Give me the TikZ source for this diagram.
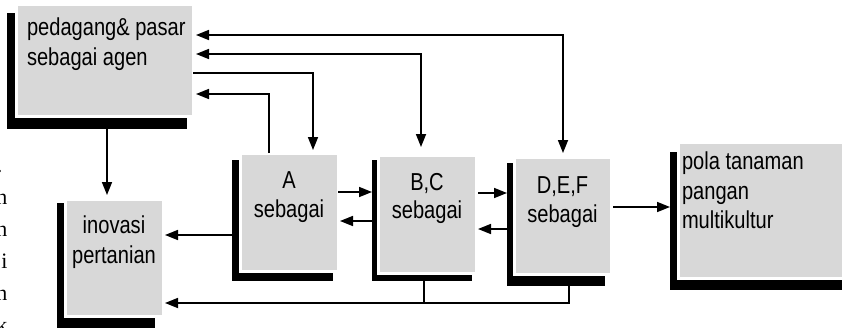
\documentclass[tikz,border=0pt]{standalone}
\usepackage{fontspec}
\setmainfont{Liberation Sans}[FakeStretch=0.82]
\newfontfamily\serifpart{Liberation Serif}
\usetikzlibrary{arrows.meta,calc}
\definecolor{boxgray}{RGB}{216,216,216}
\begin{document}
\begin{tikzpicture}[x=1pt,y=-1pt,
  gbox/.style={fill=boxgray, draw=white, line width=3pt, inner sep=0pt, outer sep=0pt},
  sbox/.style={fill=black, inner sep=0pt, outer sep=0pt},
  lbl/.style={font=\fontsize{24.5}{29}\selectfont, inner sep=0pt, outer sep=0pt, text=black},
  frag/.style={font=\serifpart\fontsize{22}{26}\selectfont, inner sep=0pt, outer sep=0pt},
  conn/.style={line width=1.7pt},
  arr/.style={conn, -{Triangle[length=13pt,width=10pt]}},
  darr/.style={conn, {Triangle[length=13pt,width=10pt]}-{Triangle[length=13pt,width=10pt]}},
]
\useasboundingbox (0,0) rectangle (842,327);
\fill[white] (0,0) rectangle (842,327);

% shadows
\node[sbox, minimum width=180, minimum height=116] (Ps) at (97,71) {};
\node[sbox, minimum width=101, minimum height=121] (As) at (282.5,220.5) {};
\node[sbox, minimum width=100, minimum height=121] (BCs) at (422,220.5) {};
\node[sbox, minimum width=98, minimum height=123] (DEFs) at (556,224.5) {};
\node[sbox, minimum width=180, minimum height=138] (polas) at (760,221) {};
\node[sbox, minimum width=98, minimum height=127] (inovs) at (106,266.5) {};

% gray boxes
\node[gbox, minimum width=177, minimum height=112] (P) at (104.5,60) {};
\node[gbox, minimum width=98, minimum height=118] (A) at (289,212) {};
\node[gbox, minimum width=98, minimum height=118] (BC) at (427,214) {};
\node[gbox, minimum width=97, minimum height=117] (DEF) at (562.5,215.5) {};
\node[gbox, minimum width=174, minimum height=136] (pola) at (765,210) {};
\node[gbox, minimum width=98, minimum height=117] (inov) at (114,257.5) {};

% texts
\node[lbl, anchor=base west] (Pt1) at (27,35) {pedagang\& pasar};
\node[lbl, anchor=base west] (Pt2) at (27,65) {sebagai agen};
\node[lbl, anchor=base] (At1) at (289,188) {A};
\node[lbl, anchor=base] (At2) at (289,217) {sebagai};
\node[lbl, anchor=base] (Bt1) at (427,190) {B,C};
\node[lbl, anchor=base] (Bt2) at (427,218) {sebagai};
\node[lbl, anchor=base] (Dt1) at (562.5,193) {D,E,F};
\node[lbl, anchor=base] (Dt2) at (562.5,222) {sebagai};
\node[lbl, anchor=base west] (Pl1) at (682,169) {pola tanaman};
\node[lbl, anchor=base west] (Pl2) at (682,199) {pangan};
\node[lbl, anchor=base west] (Pl3) at (682,228) {multikultur};
\node[lbl, anchor=base] (It1) at (114,233) {inovasi};
\node[lbl, anchor=base] (It2) at (114,263) {pertanian};

% clipped fragments of text at left edge (as in the reference)
\node[frag, anchor=base east] (f0) at (2.5,172) {.};
\node[frag, anchor=base east] (f1) at (7.5,204) {n};
\node[frag, anchor=base east] (f2) at (7.5,236) {n};
\node[frag, anchor=base east] (f3) at (7.5,268) {i};
\node[frag, anchor=base east] (f4) at (7.5,300) {n};
\node[frag, anchor=base east] (f5) at (7.5,332) {k};

% connectors
\draw[darr, shorten <=3pt, shorten >=4pt] ([yshift=-31pt]P.north east) -| ([xshift=0.5pt]DEF.north);
\draw[darr, shorten <=3pt, shorten >=8pt] ([yshift=-50pt]P.north east) -| ([xshift=-6pt]BC.north);
\draw[arr, shorten >=3pt] ([yshift=-69pt]P.north east) -| ([xshift=24pt]A.north);
\draw[arr, shorten >=3pt] ([xshift=-20pt]A.north) |- ([yshift=-90pt]P.north east);

\coordinate (pi) at ([xshift=10pt]Ps.south);
\draw[arr, shorten >=4pt] (pi) -- (pi |- inov.north);

\coordinate (ai) at ([yshift=-14.5pt]As.west);
\draw[arr, shorten >=2pt] (ai) -- (ai -| inov.east);

\coordinate (ab) at ([yshift=20pt]A.east);
\draw[arr] (ab) -- (ab -| BCs.west);
\coordinate (ba) at ([yshift=-9pt]A.east);
\draw[arr, shorten >=2pt] (ba -| BCs.west) -- (ba);

\coordinate (bd) at ([yshift=21pt]BC.east);
\draw[arr, shorten <=2pt] (bd) -- (bd -| DEFs.west);
\coordinate (db) at ([yshift=-15pt]BC.east);
\draw[arr, shorten >=2pt] (db -| DEFs.west) -- (db);

\coordinate (dp) at ([yshift=8.5pt]DEF.east);
\draw[arr, shorten <=2pt] (dp) -- (dp -| polas.west);

\coordinate (bot) at ([yshift=-45.5pt]inov.east);
\coordinate (bcb) at ([xshift=2pt]BCs.south);
\coordinate (dfb) at ([xshift=13pt]DEFs.south);
\draw[conn] (bcb) -- (bcb |- bot);
\draw[arr, shorten >=2pt] (dfb) |- (bot);
\end{tikzpicture}
\end{document}
